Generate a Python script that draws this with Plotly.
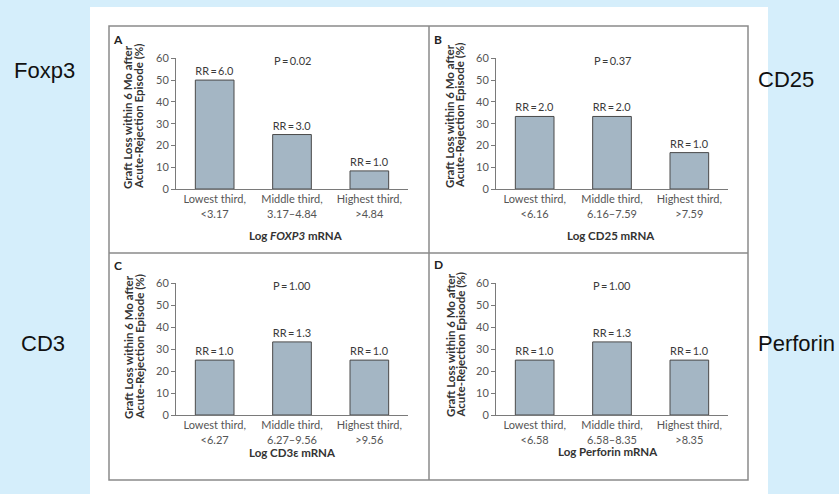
import plotly.graph_objects as go

W, H = 839, 494

# ---------------- data ----------------
cats_a = ["Lowest third,<br>&lt;3.17", "Middle third,<br>3.17–4.84", "Highest third,<br>&gt;4.84"]
vals_a = [50.0, 25.0, 8.3]
rr_a = ["6.0", "3.0", "1.0"]
p_a = "0.02"

cats_b = ["Lowest third,<br>&lt;6.16", "Middle third,<br>6.16–7.59", "Highest third,<br>&gt;7.59"]
vals_b = [33.3, 33.3, 16.7]
rr_b = ["2.0", "2.0", "1.0"]
p_b = "0.37"

cats_c = ["Lowest third,<br>&lt;6.27", "Middle third,<br>6.27–9.56", "Highest third,<br>&gt;9.56"]
vals_c = [25.0, 33.3, 25.0]
rr_c = ["1.0", "1.3", "1.0"]
p_c = "1.00"

cats_d = ["Lowest third,<br>&lt;6.58", "Middle third,<br>6.58–8.35", "Highest third,<br>&gt;8.35"]
vals_d = [25.0, 33.3, 25.0]
rr_d = ["1.0", "1.3", "1.0"]
p_d = "1.00"

panel_letters = ["A", "B", "C", "D"]
x_titles = ["Log <i>FOXP3</i> mRNA", "Log CD25 mRNA", "Log CD3ε mRNA", "Log Perforin mRNA"]
side_labels = ["Foxp3", "CD25", "CD3", "Perforin"]
y_title_lines = ["Graft Loss within 6 Mo after", "Acute-Rejection Episode (%)"]
y_ticks = [0, 10, 20, 30, 40, 50, 60]

# ---------------- layout helpers ----------------
def fx(px):
    return px / W

def fy(py):
    return 1 - py / H

FONT = "Lato"
TXT = "#3a3a3a"
AX = "#7a7a7a"
BAR = "#a4b6c4"
SMALL = 11

panels = [
    dict(cats=cats_a, vals=vals_a, rr=rr_a, p=p_a, xd=(176, 408), yd=(58.3, 189)),
    dict(cats=cats_b, vals=vals_b, rr=rr_b, p=p_b, xd=(496, 728), yd=(58.3, 189)),
    dict(cats=cats_c, vals=vals_c, rr=rr_c, p=p_c, xd=(176, 408), yd=(283.3, 415)),
    dict(cats=cats_d, vals=vals_d, rr=rr_d, p=p_d, xd=(496, 728), yd=(283.3, 415)),
]

fig = go.Figure()
annotations = []
layout_axes = {}

letter_pos = [(118, 40), (438, 40), (118, 265), (438, 264)]
ytitle_pos = [((128, 139), 117), ((449, 459), 116), ((128, 138.5), 347), ((450, 459.5), 345)]
xtitle_pos = [(296, 235), (611, 235), (292, 452), (608, 451)]
side_pos = [(12, 71), (756, 80), (19, 343), (756, 343)]

for i, p in enumerate(panels):
    n = "" if i == 0 else str(i + 1)
    xa, ya = "x" + n, "y" + n
    fig.add_trace(go.Bar(
        x=p["cats"], y=p["vals"],
        xaxis=xa, yaxis=ya,
        width=0.5,
        marker=dict(color=BAR, line=dict(color="#4a4a4a", width=1)),
        text=["RR\u2009=\u2009" + r for r in p["rr"]],
        textposition="outside",
        textfont=dict(family=FONT, size=SMALL, color=TXT),
        cliponaxis=False,
        showlegend=False,
        hoverinfo="skip",
    ))
    layout_axes["xaxis" + n] = dict(
        domain=[fx(p["xd"][0]), fx(p["xd"][1])],
        anchor=ya, type="category", range=[-0.5, 2.5],
        showline=True, linecolor=AX, linewidth=1,
        ticks="", showgrid=False, zeroline=False,
        tickfont=dict(family=FONT, size=SMALL, color="#555555"),
        fixedrange=True, automargin=False,
    )
    layout_axes["yaxis" + n] = dict(
        domain=[fy(p["yd"][1]), fy(p["yd"][0])],
        anchor=xa, range=[0, 60],
        tickvals=y_ticks,
        showline=True, linecolor=AX, linewidth=1,
        ticks="outside", ticklen=4, tickcolor=AX,
        showgrid=False, zeroline=False,
        tickfont=dict(family=FONT, size=SMALL, color="#555555"),
        fixedrange=True, automargin=False,
    )
    # P value
    annotations.append(dict(
        x=1, y=59, xref=xa, yref=ya, xanchor="center", yanchor="middle",
        text="P\u2009=\u2009" + p["p"], showarrow=False,
        font=dict(family=FONT, size=SMALL, color=TXT),
    ))
    # panel letter
    lx, ly = letter_pos[i]
    annotations.append(dict(
        x=fx(lx), y=fy(ly), xref="paper", yref="paper", xanchor="center", yanchor="middle",
        text="<b>" + panel_letters[i] + "</b>", showarrow=False,
        font=dict(family=FONT, size=12, color="#222222"),
    ))
    # y title (two lines, tight spacing)
    (tx1, tx2), ty = ytitle_pos[i]
    for tx, line in zip((tx1, tx2), y_title_lines):
        annotations.append(dict(
            x=fx(tx), y=fy(ty), xref="paper", yref="paper", xanchor="center", yanchor="middle",
            text="<b>" + line + "</b>", showarrow=False, textangle=-90,
            font=dict(family=FONT, size=11.5, color="#333333"),
        ))
    # x title
    tx, ty = xtitle_pos[i]
    annotations.append(dict(
        x=fx(tx), y=fy(ty), xref="paper", yref="paper", xanchor="center", yanchor="middle",
        text="<b>" + x_titles[i] + "</b>", showarrow=False,
        font=dict(family=FONT, size=11.5, color="#333333"),
    ))
    # side label
    sx, sy = side_pos[i]
    annotations.append(dict(
        x=fx(sx), y=fy(sy), xref="paper", yref="paper", xanchor="left", yanchor="middle",
        text=side_labels[i], showarrow=False,
        font=dict(family="Liberation Sans, Arial", size=22, color="#111111"),
    ))

shapes = [
    # white sheet
    dict(type="rect", xref="paper", yref="paper", x0=fx(90), x1=fx(768), y0=fy(494), y1=fy(7),
         fillcolor="white", line=dict(width=0), layer="below"),
    # gray frame
    dict(type="rect", xref="paper", yref="paper", x0=fx(109), x1=fx(748), y0=fy(480), y1=fy(26),
         line=dict(color="#8a8a8a", width=1.5), layer="below"),
    dict(type="line", xref="paper", yref="paper", x0=fx(429), x1=fx(429), y0=fy(480), y1=fy(26),
         line=dict(color="#8a8a8a", width=1.5), layer="below"),
    dict(type="line", xref="paper", yref="paper", x0=fx(109), x1=fx(748), y0=fy(253), y1=fy(253),
         line=dict(color="#8a8a8a", width=1.5), layer="below"),
]

fig.update_layout(
    width=W, height=H,
    margin=dict(l=0, r=0, t=0, b=0, autoexpand=False),
    paper_bgcolor="#d5eefb",
    plot_bgcolor="rgba(0,0,0,0)",
    annotations=annotations,
    shapes=shapes,
    font=dict(family=FONT),
    **layout_axes,
)

fig.write_html("out.html", config={"displayModeBar": False})
